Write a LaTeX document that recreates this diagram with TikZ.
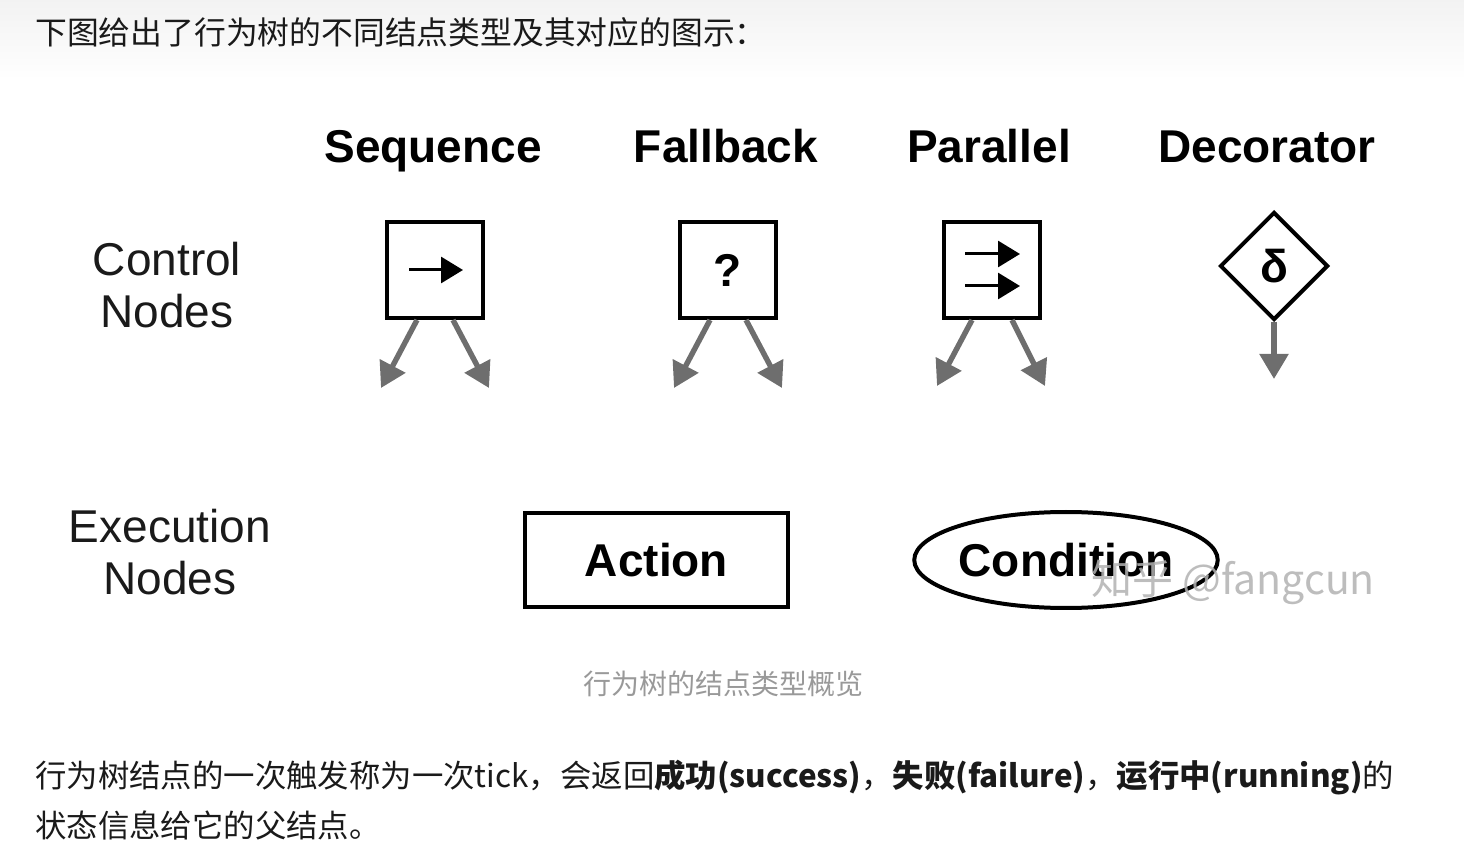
\documentclass[tikz,border=0pt]{standalone}
\usepackage{fontspec}
\setmainfont{Liberation Sans}
\newfontfamily\cjk{Noto Sans CJK SC}
\newfontfamily\arial{Liberation Sans}
\usetikzlibrary{shapes.geometric,arrows.meta}
\definecolor{edgegray}{HTML}{6E6E6E}
\definecolor{capgray}{HTML}{999999}
\definecolor{txt}{HTML}{1A1A1A}
\tikzset{
  hdr/.style={font=\arial\bfseries\fontsize{23}{27}\selectfont, inner sep=0pt, anchor=base},
  rowlbl/.style={font=\arial\fontsize{23}{26}\selectfont, align=center, inner sep=0pt, text=txt},
  ctrlbox/.style={draw, line width=2pt, minimum size=48pt, inner sep=0pt, font=\arial\bfseries\fontsize{23}{27}\selectfont},
  decobox/.style={diamond, draw, line width=2pt, minimum width=54pt, minimum height=54pt, inner sep=0pt, font=\arial\bfseries\fontsize{23}{27}\selectfont},
  edge/.style={draw=edgegray, line width=2.7pt, -{Triangle[length=12.5pt,width=14pt,fill=edgegray]}},
  inarrow/.style={line width=1.5pt, -{Triangle[length=11pt,width=13pt]}},
  execbox/.style={draw, line width=2pt, minimum width=131.5pt, minimum height=47pt, inner sep=0pt, font=\arial\bfseries\fontsize{23}{27}\selectfont},
  condbox/.style={ellipse, draw, line width=2pt, minimum width=150pt, minimum height=48pt, inner sep=0pt, font=\arial\bfseries\fontsize{23}{27}\selectfont},
  cjktext/.style={inner sep=0pt, anchor=base west, text=txt}
}
\begin{document}
\begin{tikzpicture}[x=0.5pt,y=-0.5pt]
\useasboundingbox (0,0) rectangle (1464,866);
\shade[top color=black!5, bottom color=white, draw=none] (0,0) rectangle (1464,80);
% intro line
\node[cjktext, font=\cjk\fontsize{15.9}{18}\selectfont] (intro) at (35,45) {下图给出了行为树的不同结点类型及其对应的图示：};
% headers
\node[hdr] (hseq) at (433,163) {Sequence};
\node[hdr] (hfb) at (726,163) {Fallback};
\node[hdr] (hpar) at (989,163) {Parallel};
\node[hdr] (hdec) at (1267,163) {Decorator};
% row labels
\node[rowlbl] (lctrl) at (167,285) {Control\\Nodes};
\node[rowlbl] (lexec) at (170,552) {Execution\\Nodes};
% control nodes
\node[ctrlbox] (seq) at (435,270) {};
\node[ctrlbox] (fb) at (728,270) {?};
\node[ctrlbox] (par) at (992,270) {};
\node[decobox] (dec) at (1274,266) {δ};
% symbols inside
\draw[inarrow] ([xshift=-13pt]seq.center) -- ([xshift=14pt]seq.center);
\draw[inarrow] ([xshift=-13.5pt,yshift=8pt]par.center) -- ([xshift=14pt,yshift=8pt]par.center);
\draw[inarrow] ([xshift=-13.5pt,yshift=-8pt]par.center) -- ([xshift=14pt,yshift=-8pt]par.center);
% child ends
\coordinate (seqL) at (381,388);
\coordinate (seqR) at (489,388);
\coordinate (fbL) at (674,388);
\coordinate (fbR) at (782,388);
\coordinate (parL) at (937,386);
\coordinate (parR) at (1045,386);
\coordinate (decC) at (1274,379);
\draw[edge] ([xshift=-9pt]seq.south) -- (seqL);
\draw[edge] ([xshift=9pt]seq.south) -- (seqR);
\draw[edge] ([xshift=-9pt]fb.south) -- (fbL);
\draw[edge] ([xshift=9pt]fb.south) -- (fbR);
\draw[edge] ([xshift=-10pt]par.south) -- (parL);
\draw[edge] ([xshift=10pt]par.south) -- (parR);
\draw[edge] (dec.south) -- (decC);
% execution nodes
\node[execbox] (act) at (656.5,560) {Action};
\node[condbox] (cond) at (1066,560) {Condition};
% watermark
\node[font=\cjk\fontsize{20.5}{24}\selectfont, text=black!30, opacity=0.85, inner sep=0pt] (wm) at (1233,582) {知乎 @fangcun};
% caption
\node[font=\cjk\fontsize{14}{17}\selectfont, text=capgray, inner sep=0pt] (cap) at (723,684) {行为树的结点类型概览};
% body text
\node[cjktext, font=\cjk\fontsize{15.7}{18}\selectfont] (body1) at (35,787) {行为树结点的一次触发称为一次tick，会返回\textbf{成功(success)}，\textbf{失败(failure)}，\textbf{运行中(running)}的};
\node[cjktext, font=\cjk\fontsize{15.7}{18}\selectfont] (body2) at (35,837) {状态信息给它的父结点。};
\end{tikzpicture}
\end{document}
